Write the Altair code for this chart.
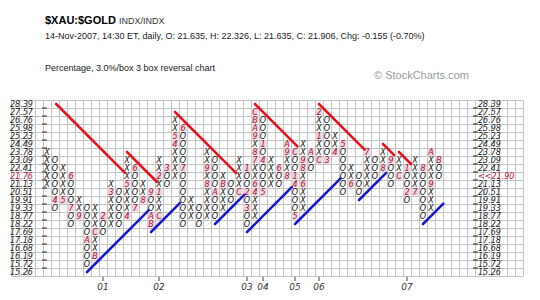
import math
import altair as alt
import pandas as pd

# ---- data ----
prices = [28.39, 27.57, 26.76, 25.98, 25.23, 24.49, 23.78, 23.09, 22.41, 21.76,
          21.13, 20.51, 19.91, 19.33, 18.77, 18.22, 17.69, 17.18, 16.68, 16.19,
          15.72, 15.26]

# highest and lowest box of every column; columns alternate X, O, X, O ...
col_high = [23.78, 23.09, 22.41, 21.76, 19.91, 19.33, 19.33, 18.77, 21.13, 20.51,
            23.09, 22.41, 21.13, 20.51, 23.09, 22.41, 26.76, 25.98, 19.91, 19.33,
            23.78, 23.09, 21.76, 21.13, 23.09, 22.41, 27.57, 26.76, 23.09, 22.41,
            24.49, 23.78, 24.49, 23.78, 27.57, 26.76, 25.23, 24.49, 22.41, 21.76,
            23.78, 23.09, 23.78, 23.09, 23.09, 22.41, 23.09, 22.41, 23.78, 23.09]
col_low = [21.13, 19.33, 19.91, 18.22, 18.77, 15.72, 16.19, 17.69, 18.22, 18.22,
           18.77, 19.33, 19.91, 18.22, 18.77, 21.13, 21.76, 18.22, 18.77, 18.22,
           18.77, 18.77, 19.33, 19.91, 20.51, 18.22, 18.77, 20.51, 21.13, 21.13,
           21.76, 18.77, 19.33, 22.41, 23.09, 23.09, 23.78, 20.51, 21.13, 20.51,
           21.13, 21.76, 22.41, 21.13, 21.76, 19.91, 20.51, 18.77, 19.33, 21.76]

# month markers (column, box, month code)
month_col = [1, 2, 3, 3, 4, 5, 6, 6, 7, 8,
             10, 10, 11, 11, 12, 13, 13, 13, 14, 14,
             14, 15, 16, 16, 17, 17, 20, 20, 21, 22,
             24, 25, 25, 25, 26, 26, 26, 26, 26, 26,
             26, 26, 27, 27, 27, 29, 30, 30, 30, 31,
             31, 31, 31, 32, 32, 32, 33, 34, 34, 34,
             35, 36, 37, 38, 40, 42, 43, 44, 45, 45,
             46, 47, 48, 48, 49]
month_box = [19.91, 19.91, 21.76, 19.33, 18.77, 17.18, 16.19, 17.69, 18.77, 20.51,
             18.77, 21.13, 22.41, 19.33, 19.91, 20.51, 18.77, 18.22, 18.77, 20.51,
             21.76, 22.41, 24.49, 25.23, 25.98, 22.41, 21.13, 22.41, 20.51, 21.13,
             20.51, 22.41, 20.51, 19.33, 20.51, 21.13, 23.09, 23.78, 25.23, 25.98,
             26.76, 27.57, 24.49, 23.09, 20.51, 22.41, 21.76, 23.78, 24.49, 23.78,
             21.76, 21.13, 18.77, 21.13, 22.41, 23.09, 23.78, 23.09, 25.23, 27.57,
             23.09, 23.78, 24.49, 21.13, 23.78, 22.41, 23.09, 21.76, 22.41, 20.51,
             20.51, 22.41, 21.13, 23.78, 23.09]
month_code = ["4", "5", "6", "7", "9", "A", "B", "C", "2", "3",
              "4", "5", "6", "7", "8", "9", "A", "B", "C", "1",
              "2", "3", "4", "5", "6", "7", "8", "9", "A", "B",
              "C", "1", "2", "3", "4", "6", "7", "8", "9", "A",
              "B", "C", "1", "4", "5", "6", "8", "9", "A", "C",
              "1", "4", "5", "6", "8", "9", "A", "C", "1", "2",
              "3", "4", "5", "6", "7", "8", "9", "C", "1", "2",
              "7", "8", "9", "A", "B"]

# 45-degree trend lines: start column, start box, end column
red_start_col = [1.15, 10, 16, 26, 34, 42, 44]
red_start_box = [28.39, 23.78, 27.57, 28.39, 28.39, 24.49, 23.78]
red_end_col = [9.75, 13.75, 23.65, 31.3, 39.7, 43.4, 45.5]
blue_start_col = [5, 13, 21, 25, 31, 39, 47]
blue_start_box = [15.26, 17.69, 18.22, 17.69, 18.22, 19.91, 18.22]
blue_end_col = [12.7, 16.6, 24.65, 30.6, 36.7, 42.4, 49.55]

year_labels = ["01", "02", "03", "04", "05", "06", "07"]
year_cols = [7, 14, 25, 27, 31, 34, 45]

last_close = 21.906

# ---- tables ----
row_of = {p: i for i, p in enumerate(prices)}
months = {(c, row_of[b]): m for c, b, m in zip(month_col, month_box, month_code)}

recs = []
for c, (hi, lo) in enumerate(zip(col_high, col_low)):
    sym = "X" if c % 2 == 0 else "O"
    for r in range(row_of[hi], row_of[lo] + 1):
        code = months.get((c, r))
        recs.append({"col": c, "row": r, "text": code if code else sym,
                     "kind": "month" if code else "box"})
boxes = pd.DataFrame(recs)
month_df = boxes[boxes["kind"] == "month"]

lines = []
for s, b, e in zip(red_start_col, red_start_box, red_end_col):
    r0 = row_of[b]
    lines.append({"c0": s, "r0": r0, "c1": e, "r1": r0 + (e - s), "trend": "red"})
for s, b, e in zip(blue_start_col, blue_start_box, blue_end_col):
    r0 = row_of[b]
    lines.append({"c0": s, "r0": r0, "c1": e, "r1": r0 - (e - s), "trend": "blue"})
lines_df = pd.DataFrame(lines)

cur_box = max(p for p in prices if p <= last_close)
lab = pd.DataFrame({
    "row": list(range(len(prices))),
    "left": [f"{p:.2f}" for p in prices],
    "right": [("<<" + f"{math.floor(last_close * 100) / 100:.2f}") if p == cur_box else f"{p:.2f}"
              for p in prices],
    "cur": [1 if p == cur_box else 0 for p in prices],
})
tick_df = pd.DataFrame({"bnd": [i - 0.5 for i in range(1, len(prices))]})
years = pd.DataFrame({"col": year_cols, "lab": year_labels})

# ---- scales / axes ----
GRID = "#c4c4c4"
xs = alt.Scale(domain=[-4.5, 59.5], nice=False, zero=False)
ys = alt.Scale(domain=[-0.5, 21.5], nice=False, zero=False, reverse=True)
x_axis = alt.Axis(values=[i - 4.5 for i in range(65)], grid=True, gridColor=GRID, gridWidth=1,
                  labels=False, ticks=False, domain=False, title=None)
y_axis = alt.Axis(values=[i - 0.5 for i in range(23)], grid=True, gridColor=GRID, gridWidth=1,
                  labels=False, ticks=False, domain=False, title=None)


def X(f):
    return alt.X(f, type="quantitative", scale=xs, axis=x_axis)


def Y(f):
    return alt.Y(f, type="quantitative", scale=ys, axis=y_axis)


MONTH_RED = "#b3103a"
FONT = "DejaVu Sans"
GS = 8

month_bg = alt.Chart(month_df).mark_square(size=50, color="#e8d8de", opacity=1).encode(
    x=X("col"), y=Y("row"))

glyphs = alt.Chart(boxes).mark_text(font=FONT, fontSize=GS, fontStyle="italic",
                                    baseline="middle", align="center", dy=0.5).encode(
    x=X("col"), y=Y("row"), text="text:N",
    color=alt.condition(alt.datum.kind == "month", alt.value(MONTH_RED), alt.value("#111111")))

trend = alt.Chart(lines_df).mark_rule(strokeWidth=2.6, strokeCap="round").encode(
    x=X("c0"), y=Y("r0"), x2="c1:Q", y2="r1:Q",
    color=alt.Color("trend:N", scale=alt.Scale(domain=["red", "blue"], range=["#e8141c", "#1a1ad0"]),
                    legend=None))

lab_color = alt.condition(alt.datum.cur == 1, alt.value(MONTH_RED), alt.value("#222222"))
left_labels = alt.Chart(lab).mark_text(font=FONT, fontSize=GS, fontStyle="italic", align="left",
                                       baseline="middle", dy=0.5).encode(
    x=alt.value(-1), y=Y("row"), text="left:N", color=lab_color)
right_labels = alt.Chart(lab).mark_text(font=FONT, fontSize=GS, fontStyle="italic", align="left",
                                        baseline="middle", dy=0.5).encode(
    x=alt.value(467), y=Y("row"), text="right:N", color=lab_color)
left_ticks = alt.Chart(tick_df).mark_rule(color="#222222", strokeWidth=1).encode(
    x=alt.value(31), x2=alt.value(36), y=Y("bnd"))
right_ticks = alt.Chart(tick_df).mark_rule(color="#222222", strokeWidth=1).encode(
    x=alt.value(462), x2=alt.value(467), y=Y("bnd"))

year_ticks = alt.Chart(years).mark_rule(color="#444444", strokeWidth=1).encode(
    x=X("col"), y=alt.value(177), y2=alt.value(181))
year_text = alt.Chart(years).mark_text(font=FONT, fontSize=9, fontStyle="italic",
                                       align="center", baseline="alphabetic", color="#333333").encode(
    x=X("col"), y=alt.value(190), text="lab:N")

one = pd.DataFrame({"k": [0]})


def txt(s, x, y, **kw):
    return alt.Chart(one).mark_text(align="left", baseline="alphabetic", **kw).encode(
        x=alt.value(x), y=alt.value(y), text=alt.value(s))


title1 = txt("$XAU:$GOLD", 34, -76, font="Liberation Sans", fontSize=11, fontWeight="bold",
             color="#000000")
title2 = txt("INDX/INDX", 108, -76, font="Liberation Sans", fontSize=9, color="#333333")
title3 = txt("14-Nov-2007, 14:30 ET, daily, O: 21.635, H: 22.326, L: 21.635, C: 21.906, "
             "Chg: -0.155 (-0.70%)", 34, -61, font="Liberation Sans", fontSize=9,
             color="#222222")
title4 = txt("Percentage, 3.0%/box 3 box reversal chart", 34, -29, font="Liberation Sans",
             fontSize=9, color="#222222")
title5 = txt("\u00a9 StockCharts.com", 363, -21, font="Liberation Sans", fontSize=11,
             color="#9a9a9a")

chart = alt.layer(
    month_bg, glyphs, trend, left_ticks, right_ticks, left_labels, right_labels,
    year_ticks, year_text, title1, title2, title3, title4, title5
).properties(
    width=512, height=176,
    padding={"left": 11, "top": 100, "right": 17, "bottom": 24},
    autosize=alt.AutoSizeParams(type="none"),
    background="white",
).configure_view(stroke=None)

chart.save("out.html", embed_options={"renderer": "svg", "actions": False})
